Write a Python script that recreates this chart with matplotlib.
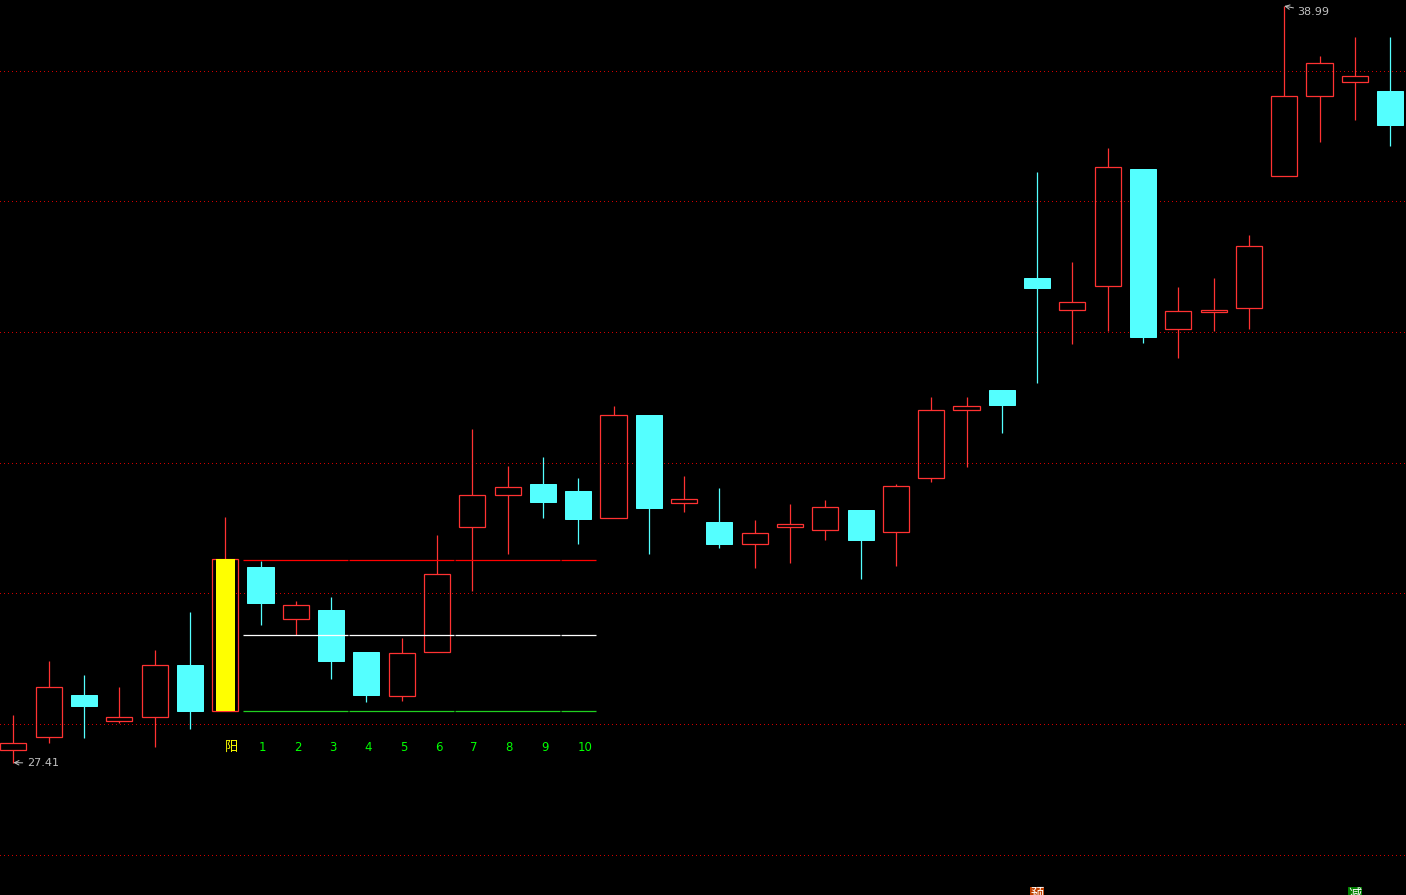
# -*- coding: utf-8 -*-
import matplotlib
matplotlib.use('Agg')
import matplotlib.pyplot as plt
from matplotlib.patches import Rectangle

plt.rcParams['font.family'] = ['Noto Sans CJK SC', 'DejaVu Sans']

# candle values
opens = [27.61, 27.80, 28.45, 28.04, 28.11, 28.91, 28.20, 30.41, 29.61, 29.75,
         29.11, 28.43, 29.11, 31.02, 31.51, 31.68, 31.57, 31.15, 32.73, 31.39,
         31.10, 30.76, 31.01, 30.97, 31.27, 30.94, 31.77, 32.81, 33.12, 34.82,
         34.34, 34.71, 36.50, 34.04, 34.31, 34.37, 36.39, 37.62, 37.82, 37.69]
closes = [27.71, 28.56, 28.28, 28.11, 28.91, 28.20, 30.52, 29.86, 29.83, 28.97,
          28.45, 29.09, 30.30, 31.51, 31.63, 31.40, 31.14, 32.73, 31.31, 31.45,
          30.76, 30.93, 31.07, 31.33, 30.81, 31.65, 32.81, 32.87, 32.89, 34.68,
          34.46, 36.52, 33.93, 34.33, 34.34, 35.32, 37.62, 38.12, 37.92, 37.17]
highs = [28.14, 28.97, 28.75, 28.56, 29.14, 29.72, 31.17, 30.50, 29.89, 29.95,
         29.11, 29.32, 30.90, 32.51, 31.95, 32.09, 31.77, 32.87, 32.73, 31.80,
         31.62, 31.13, 31.37, 31.43, 31.27, 31.68, 33.00, 33.00, 33.12, 36.45,
         35.08, 36.81, 36.50, 34.69, 34.82, 35.49, 38.99, 38.23, 38.51, 38.51]
lows = [27.41, 27.71, 27.78, 28.01, 27.65, 27.93, 28.20, 29.52, 29.37, 28.69,
        28.34, 28.36, 29.11, 30.04, 30.61, 31.16, 30.76, 31.15, 30.61, 31.25,
        30.70, 30.39, 30.47, 30.82, 30.22, 30.42, 31.71, 31.94, 32.46, 33.22,
        33.82, 34.02, 33.84, 33.61, 34.02, 34.04, 36.39, 36.91, 37.24, 36.85]

grid_levels = [26, 28, 30, 32, 34, 36, 38]

signal_day = 6
count_labels = ['1', '2', '3', '4', '5', '6', '7', '8', '9', '10']
box_high = 30.51
box_mid = 29.36
box_low = 28.20

RED = '#ff3232'
CYAN = '#54ffff'
PX = 0.72  # one pixel in points at dpi 100
LW = PX * 1.25

fig = plt.figure(figsize=(14.06, 8.951), dpi=100, facecolor='black')
ax = fig.add_axes([0, 0, 1, 1])
ax.set_facecolor('black')
ax.set_xlim(-0.38, 39.45)
ax.set_ylim(25.384, 39.084)
ax.axis('off')

# price grid
for p in grid_levels:
    ax.axhline(p, color='#d00000', lw=PX, ls=(0, (1, 3)), antialiased=False, zorder=1)

# candles
w = 0.74
for i in range(len(opens)):
    o, c, h, l = opens[i], closes[i], highs[i], lows[i]
    top, bot = max(o, c), min(o, c)
    if c >= o:
        col = RED
        ax.add_patch(Rectangle((i - w / 2, bot), w, top - bot, fc='none', ec=col,
                               lw=LW, zorder=3))
    else:
        col = CYAN
        ax.add_patch(Rectangle((i - w / 2, bot), w, top - bot, fc=col, ec=col,
                               lw=PX, zorder=3))
    ax.vlines(i, top, h, color=col, lw=LW, zorder=2)
    ax.vlines(i, l, bot, color=col, lw=LW, zorder=2)

# signal candle gets a yellow fill
ax.add_patch(Rectangle((signal_day - 0.26, opens[signal_day]), 0.54,
                       closes[signal_day] - opens[signal_day],
                       fc='#ffff00', ec='none', zorder=4))

# box lines after the signal candle, broken every three days
segments = [(6.5, 9.47), (9.5, 12.47), (12.5, 15.47), (15.5, 16.5)]
for a, b in segments:
    ax.hlines(box_high, a, b, color='#ff0000', lw=LW, zorder=5)
    ax.hlines(box_mid, a, b, color='white', lw=LW, zorder=5)
    ax.hlines(box_low, a, b, color='#20d020', lw=LW, zorder=5)

# day counters
label_y = 27.65
ax.text(signal_day + 0.17, label_y, '阳', color='#ffff00', fontsize=9.5,
        ha='center', va='center', zorder=6)
for n, s in enumerate(count_labels):
    off = 0.05 if len(s) == 1 else 0.19
    ax.text(signal_day + 1 + n + off, label_y, s, color='#00ff00', fontsize=8.5,
            family='DejaVu Sans', ha='center', va='center', zorder=6)

# extreme price marks
ax.annotate('27.41', xy=(0, min(lows)), xytext=(0.38, 27.40), color='#c0c0c0',
            fontsize=8, family='DejaVu Sans', va='center',
            arrowprops=dict(arrowstyle='->', color='#c0c0c0', lw=PX, shrinkA=1, shrinkB=0))
ax.annotate('38.99', xy=(36, max(highs)), xytext=(36.38, 38.90), color='#c0c0c0',
            fontsize=8, family='DejaVu Sans', va='center',
            arrowprops=dict(arrowstyle='->', color='#c0c0c0', lw=PX, shrinkA=1, shrinkB=0))

# small markers at the bottom edge, cut off by the window as in the original
ax.text(29.0, 25.40, '预', color='white', fontsize=9.5, ha='center', va='center',
        bbox=dict(fc='#c04000', ec='none', pad=0.5), zorder=6)
ax.text(38.0, 25.40, '减', color='white', fontsize=9.5, ha='center', va='center',
        bbox=dict(fc='#008000', ec='none', pad=0.5), zorder=6)

fig.savefig('out.png', dpi=100, facecolor='black')
